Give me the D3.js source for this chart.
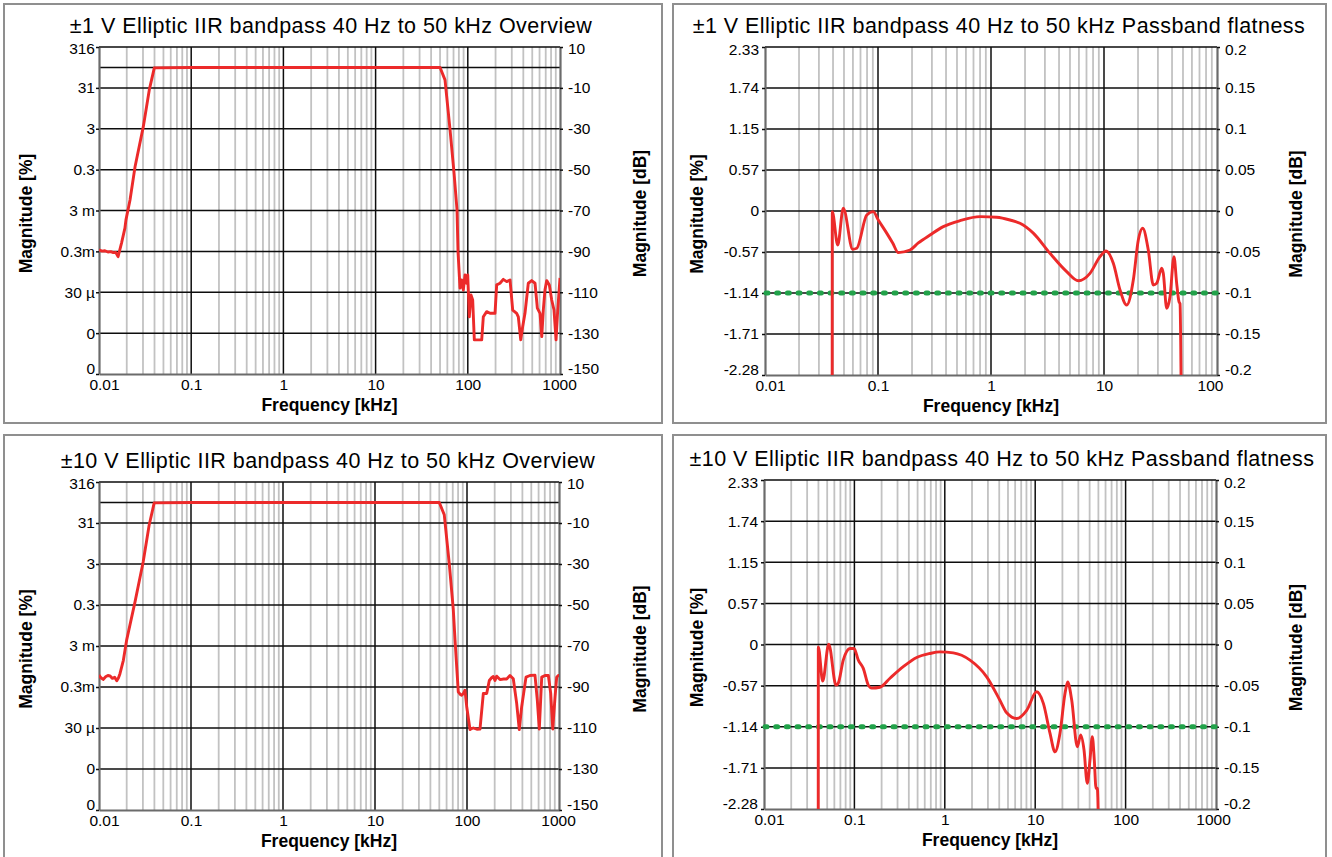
<!DOCTYPE html>
<html>
<head>
<meta charset="utf-8">
<script src="https://cdn.jsdelivr.net/npm/d3@7"></script>
<style>
  body { margin: 0; background: #fff; }
  svg { display: block; }
  text { font-family: "Liberation Sans", Arial, Helvetica, sans-serif; fill: #000; }
</style>
</head>
<body>
<svg id="chart" width="1332" height="857"></svg>
<script>
// ---------- data (frequency in kHz, magnitude in dB) ----------

// ±1 V overview response
const ovFreq1 = [0.01, 0.0108, 0.0116, 0.0125, 0.0134, 0.0143, 0.0152, 0.0161, 0.0176, 0.0191, 0.0196, 0.0217, 0.0246, 0.0302, 0.0351, 0.0398,
  0.1, 1, 10, 50, 56.6, 64.2, 70.9, 76.4, 78.3, 82.3, 85.9, 89.4, 93.3, 97.3, 99.8, 103.8, 108.3, 113, 117.7, 124.8, 141.5, 147.3,
  160.3, 174.1, 197.3, 205.7, 223.4, 242.5, 264.2, 287, 307, 339, 353, 375, 394, 417, 453, 493, 536, 568, 607, 634, 659, 687,
  718, 766, 813, 861, 906, 945, 1000];
const ovDb1 = [-89.3, -89.9, -89.7, -90.3, -90.1, -90.6, -90.5, -92.6, -85.7, -78.6, -74.6, -64.9, -48.6, -29.1, -11, -0.2,
  0, 0, 0, 0, -6.1, -30.6, -51.6, -69.7, -90, -108, -104, -108.9, -101.5, -105.6, -101.5, -122, -111.3, -113.8, -133.3, -133.3, -133.3, -122,
  -119.5, -120.3, -120.3, -106.4, -105.6, -103.7, -104.8, -104, -118.7, -120.3, -122, -133.3, -126.8, -120.3, -105.6, -104.3, -105.6, -117.8, -120.3, -131.7, -118.7, -108.9,
  -104.3, -106.4, -113.8, -118.7, -133.3, -118.7, -103];

// ±10 V overview response
const ovFreq10 = [0.01, 0.0105, 0.0111, 0.0118, 0.0125, 0.0132, 0.014, 0.0148, 0.0156, 0.0163, 0.0169, 0.0184, 0.02, 0.0246, 0.0302, 0.0351, 0.0398,
  0.1, 1, 10, 50, 56.6, 64.2, 70.9, 74.1, 80.4, 84, 87.5, 91.2, 95.1, 99.3, 107.9, 112, 117.1, 128, 138.4, 150.4, 163.7, 174.8, 185,
  193.2, 201.5, 210.3, 228.4, 250, 270.1, 293.2, 318.6, 346.7, 370, 393, 438, 484, 548, 581, 611, 649, 705, 766, 813, 855, 906, 944, 982, 1000];
const ovDb10 = [-84.2, -85.5, -86.3, -85, -84.4, -84.6, -85.8, -85.3, -87, -85.5, -83.5, -77, -67, -48.6, -29, -11, -0.2,
  0, 0, 0, 0, -6, -30, -52, -67, -92.4, -93.5, -94, -93.2, -91.6, -99.6, -110.8, -110.3, -110, -110.6, -110.5, -93.2, -93.2, -86.8, -85.5,
  -84.9, -86.8, -84.7, -86.4, -86.1, -86.1, -84.4, -86, -98, -110.8, -99.6, -85.2, -84.4, -84.2, -96.4, -110.5, -85.2, -84.4, -84.4, -93.2, -110.5, -94.8, -85.2, -84.4, -84.4];

// ±1 V passband flatness
const pbFreq1 = [0.0393, 0.0394, 0.044, 0.0493, 0.0597, 0.0648, 0.0795, 0.0908, 0.1006, 0.1194, 0.1349, 0.1512, 0.192, 0.2274, 0.2884,
  0.3784, 0.532, 0.8, 1.122, 1.472, 1.805, 2.368, 3.324, 4.673, 5.925, 7.516, 9.22, 10.42, 12.09, 13.86, 15.88, 18.17, 20.12, 21.99,
  24.66, 27.3, 29.25, 32.41, 33.47, 35.87, 38.38, 41.62, 43.97, 46.09, 47.06, 48.7];
const pbDb1 = [-0.3, -0.001, -0.0415, 0.0033, -0.0467, -0.0455, -0.0049, -0.0008, -0.011, -0.027, -0.039, -0.0508, -0.0476, -0.039, -0.0293,
  -0.0191, -0.0118, -0.0069, -0.0077, -0.011, -0.015, -0.027, -0.0516, -0.074, -0.085, -0.076, -0.0557, -0.0488, -0.0638, -0.0963, -0.1146, -0.0841, -0.0354, -0.0211,
  -0.0476, -0.0902, -0.0882, -0.0699, -0.076, -0.1187, -0.1045, -0.0557, -0.0882, -0.1106, -0.113, -0.3];

// ±10 V passband flatness
const pbFreq10 = [0.0398, 0.0399, 0.0446, 0.052, 0.0626, 0.0663, 0.0753, 0.0894, 0.099, 0.1105, 0.1254, 0.1425, 0.1553, 0.1919, 0.2475,
  0.3474, 0.4887, 0.6855, 0.885, 1.242, 1.9, 2.906, 4.08, 4.84, 6.24, 8.05, 10.39, 12.31, 14.59, 16.57, 18.8, 21.36, 22.87, 25.34,
  29.23, 31.87, 34.65, 37.68, 40.36, 42.82, 45.06, 47.07, 48.66, 51.2];
const pbDb10 = [-0.3, -0.0029, -0.0445, 0.0004, -0.0494, -0.047, -0.019, -0.0049, -0.0049, -0.019, -0.029, -0.0494, -0.053, -0.052, -0.041,
  -0.027, -0.0158, -0.0109, -0.009, -0.0102, -0.019, -0.0393, -0.068, -0.083, -0.09, -0.08, -0.0575, -0.0716, -0.108, -0.1306, -0.108, -0.0595, -0.0454, -0.0676,
  -0.1243, -0.11, -0.128, -0.1687, -0.1404, -0.112, -0.1404, -0.1748, -0.1748, -0.3];

// axis ticks and labels
const ovDbTicks = [10, -10, -30, -50, -70, -90, -110, -130, -150];
const ovPctLabels = ["316", "31", "3", "0.3", "3 m", "0.3m", "30 µ", "0", "0"];
const pbDbTicks = [0.2, 0.15, 0.1, 0.05, 0, -0.05, -0.1, -0.15, -0.2];
const pbPctLabels = ["2.33", "1.74", "1.15", "0.57", "0", "-0.57", "-1.14", "-1.71", "-2.28"];
const freqTicks5 = [0.01, 0.1, 1, 10, 100, 1000];
const freqTicks4 = [0.01, 0.1, 1, 10, 100];
const flatnessLimitDb = -0.1;

const titles = [
  "±1 V Elliptic IIR bandpass 40 Hz to 50 kHz Overview",
  "±1 V Elliptic IIR bandpass 40 Hz to 50 kHz Passband flatness",
  "±10 V Elliptic IIR bandpass 40 Hz to 50 kHz Overview",
  "±10 V Elliptic IIR bandpass 40 Hz to 50 kHz Passband flatness"
];

// ---------- layout ----------
const panels = [
  { box: [4, 4, 662, 423], plot: [99, 47, 560, 374], xDomain: [0.01, 1000], xTicks: freqTicks5, kind: "ov",
    freq: ovFreq1, db: ovDb1, title: titles[0], titleX: 331, lastShift: -1, leftPad: 1, yLabelL: 26, yLabelR: 640 },
  { box: [673, 4, 1326, 423], plot: [765, 47, 1217, 375], xDomain: [0.01, 100], xTicks: freqTicks4, kind: "pb",
    freq: pbFreq1, db: pbDb1, title: titles[1], titleX: 999, lastShift: -7, leftPad: 3, yLabelL: 697, yLabelR: 1296 },
  { box: [4, 435, 662, 880], plot: [99, 482, 559, 810], xDomain: [0.01, 1000], xTicks: freqTicks5, kind: "ov",
    freq: ovFreq10, db: ovDb10, title: titles[2], titleX: 328, lastShift: -1, leftPad: 1, yLabelL: 26, yLabelR: 640 },
  { box: [673, 435, 1326, 880], plot: [764, 480, 1216, 809], xDomain: [0.01, 1000], xTicks: freqTicks5, kind: "pb",
    freq: pbFreq10, db: pbDb10, title: titles[3], titleX: 1002, lastShift: -3, leftPad: 3, yLabelL: 697, yLabelR: 1296 }
];

const svg = d3.select("#chart");
const RED = "#ec2a2a", GREEN = "#22a24a", AXIS = "#6b6b6b", MINOR = "#c2c2c2", GRID = "#0d0d0d";

panels.forEach((p, pi) => {
  const [l, t, r, b] = p.plot;
  const isOv = p.kind === "ov";
  const yTicks = isOv ? ovDbTicks : pbDbTicks;
  const yLabels = isOv ? ovPctLabels : pbPctLabels;
  const yDomain = isOv ? [-150, 10] : [-0.2, 0.2];

  const x = d3.scaleLog().domain(p.xDomain).range([l, r]);
  const y = d3.scaleLinear().domain(yDomain).range([b, t]);
  const g = svg.append("g");

  // panel frame
  g.append("rect")
    .attr("x", p.box[0]).attr("y", p.box[1])
    .attr("width", p.box[2] - p.box[0]).attr("height", p.box[3] - p.box[1])
    .attr("fill", "none").attr("stroke", "#8f8f8f").attr("stroke-width", 2);

  // minor frequency grid (2..9 per decade)
  const minor = [];
  for (let d = p.xDomain[0]; d < p.xDomain[1] * 0.999; d *= 10) {
    for (let k = 2; k <= 9; k++) minor.push(+(k * d).toPrecision(3));
  }
  g.append("g").selectAll("line").data(minor).join("line")
    .attr("x1", d => x(d)).attr("x2", d => x(d))
    .attr("y1", t).attr("y2", b)
    .attr("stroke", MINOR).attr("stroke-width", 1.8);

  // decade grid
  const decades = p.xTicks.slice(1, -1);
  g.append("g").selectAll("line").data(decades).join("line")
    .attr("x1", d => x(d)).attr("x2", d => x(d))
    .attr("y1", t).attr("y2", b)
    .attr("stroke", GRID).attr("stroke-width", 1.5);

  // horizontal grid (plus the 0 dB reference on the overview)
  const hLines = yTicks.filter(v => v !== yDomain[0]);
  if (isOv) hLines.push(0);
  g.append("g").selectAll("line").data(hLines).join("line")
    .attr("x1", l).attr("x2", r)
    .attr("y1", d => y(d)).attr("y2", d => y(d))
    .attr("stroke", GRID).attr("stroke-width", d => d === yDomain[1] ? 1.2 : 1.5);

  // left axis: magnitude in %
  const axL = g.append("g").attr("transform", `translate(${l},0)`)
    .call(d3.axisLeft(y).tickValues(yTicks).tickFormat((d, i) => yLabels[i])
      .tickSize(3).tickSizeOuter(0).tickPadding(p.leftPad));
  // right axis: magnitude in dB
  const axR = g.append("g").attr("transform", `translate(${r},0)`)
    .call(d3.axisRight(y).tickValues(yTicks).tickFormat(d => d3.format("")(d).replace("−", "-"))
      .tickSize(3).tickSizeOuter(0).tickPadding(5));
  // bottom axis: frequency
  const axB = g.append("g").attr("transform", `translate(0,${b})`)
    .call(d3.axisBottom(x).tickValues(p.xTicks).tickFormat(d => String(d))
      .tickSize(0).tickSizeOuter(0).tickPadding(5));

  [axL, axR, axB].forEach(ax => {
    ax.select(".domain").attr("stroke", AXIS).attr("stroke-width", 2.2);
    ax.selectAll(".tick line").attr("stroke", GRID).attr("stroke-width", 1.5);
    ax.selectAll("text").attr("font-size", 15.5).attr("fill", "#000")
      .style("font-family", '"Liberation Sans", Arial, sans-serif');
  });
  // keep the end labels inside the plot height
  [axL, axR].forEach(ax => {
    ax.selectAll(".tick").filter(d => d === yDomain[1]).select("text")
      .attr("transform", `translate(0,${isOv ? 1.5 : 3})`);
    ax.selectAll(".tick").filter(d => d === yDomain[0]).select("text")
      .attr("transform", "translate(0,-5)");
  });
  axB.selectAll(".tick").filter(d => d === p.xDomain[0]).select("text")
    .attr("transform", "translate(5,0)");
  axB.selectAll(".tick").filter(d => d === p.xDomain[1]).select("text")
    .attr("transform", `translate(${p.lastShift},0)`);
  axB.selectAll(".tick text").attr("dy", "0.71em");

  // top border
  g.append("line").attr("x1", l).attr("x2", r).attr("y1", t).attr("y2", t)
    .attr("stroke", GRID).attr("stroke-width", 1.2);

  // flatness limit
  if (!isOv) {
    g.append("line")
      .attr("x1", l + 1).attr("x2", r).attr("y1", y(flatnessLimitDb)).attr("y2", y(flatnessLimitDb))
      .attr("stroke", GREEN).attr("stroke-width", 5).attr("stroke-linecap", "round")
      .attr("stroke-dasharray", "2 8.67");
  }

  // response curve
  const clipId = "clip" + pi;
  g.append("clipPath").attr("id", clipId).append("rect")
    .attr("x", l).attr("y", t).attr("width", r - l).attr("height", b - t);
  const pts = p.freq.map((f, i) => [f, p.db[i]]);
  const line = d3.line().x(d => x(d[0])).y(d => y(d[1]))
    .curve(isOv ? d3.curveLinear : d3.curveMonotoneX);
  g.append("path").datum(pts)
    .attr("clip-path", `url(#${clipId})`)
    .attr("d", line)
    .attr("fill", "none").attr("stroke", RED).attr("stroke-width", 2.9)
    .attr("stroke-linejoin", "round");

  // title and axis names
  g.append("text").attr("x", p.titleX).attr("y", t - 14)
    .attr("text-anchor", "middle").attr("font-size", 21.5).attr("letter-spacing", 0.45)
    .text(p.title);
  g.append("text").attr("x", (l + r) / 2).attr("y", b + 37)
    .attr("text-anchor", "middle").attr("font-size", 17.5).attr("font-weight", "bold")
    .text("Frequency [kHz]");
  const yc = (t + b) / 2 + 3;
  g.append("text").attr("transform", `translate(${p.yLabelL + 6},${yc}) rotate(-90)`)
    .attr("text-anchor", "middle").attr("font-size", 17.5).attr("font-weight", "bold")
    .text("Magnitude [%]");
  g.append("text").attr("transform", `translate(${p.yLabelR + 6},${yc}) rotate(-90)`)
    .attr("text-anchor", "middle").attr("font-size", 17.5).attr("font-weight", "bold")
    .text("Magnitude [dB]");
});
</script>
</body>
</html>
